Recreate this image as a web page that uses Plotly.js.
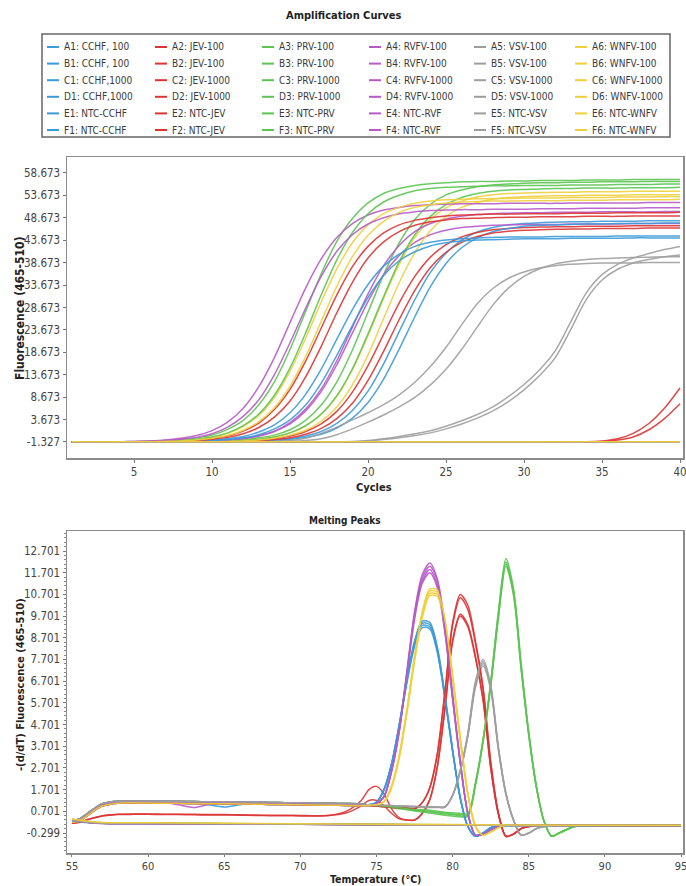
<!DOCTYPE html>
<html><head><meta charset="utf-8">
<script src="https://cdn.plot.ly/plotly-3.0.1.min.js"></script>
<style>html,body{margin:0;padding:0;background:#fff;}#chart{width:686px;height:886px;}</style>
</head><body><div id="chart"></div>
<script>
// ---------- axes / categories ----------
const cycles = [1,2,3,4,5,6,7,8,9,10,11,12,13,14,15,16,17,18,19,20,21,22,23,24,25,26,27,28,29,30,31,32,33,34,35,36,37,38,39,40];
const ntcCycles = [1,5,10,15,20,25,30,35,40];
const temps = [55,55.5,56,56.5,57,57.5,58,59,60,61,62,63,64,65,66,67,68,69,70,71,72,73,74,74.5,75,75.5,76,76.5,77,77.5,78,78.5,79,79.5,80,80.5,81,81.5,82,82.5,83,83.5,84,84.5,85,85.5,86,86.5,87,88,89,90,91,92,93,94,95];
const ntcTemps = [55,56,57,60,65,70,75,80,85,90,95];
const ampTickText = ['-1.327','3.673','8.673','13.673','18.673','23.673','28.673','33.673','38.673','43.673','48.673','53.673','58.673'];
const meltTickText = ['-0.299','0.701','1.701','2.701','3.701','4.701','5.701','6.701','7.701','8.701','9.701','10.701','11.701','12.701'];
const cycleTicks = [5,10,15,20,25,30,35,40];
const tempTicks = [55,60,65,70,75,80,85,90,95];

const rowsWells = ['A','B','C','D','E','F'];
const legendNames = [
 ['A1: CCHF, 100','A2: JEV-100','A3: PRV-100','A4: RVFV-100','A5: VSV-100','A6: WNFV-100'],
 ['B1: CCHF, 100','B2: JEV-100','B3: PRV-100','B4: RVFV-100','B5: VSV-100','B6: WNFV-100'],
 ['C1: CCHF,1000','C2: JEV-1000','C3: PRV-1000','C4: RVFV-1000','C5: VSV-1000','C6: WNFV-1000'],
 ['D1: CCHF,1000','D2: JEV-1000','D3: PRV-1000','D4: RVFV-1000','D5: VSV-1000','D6: WNFV-1000'],
 ['E1: NTC-CCHF','E2: NTC-JEV','E3: NTC-PRV','E4: NTC-RVF','E5: NTC-VSV','E6: NTC-WNFV'],
 ['F1: NTC-CCHF','F2: NTC-JEV','F3: NTC-PRV','F4: NTC-RVF','F5: NTC-VSV','F6: NTC-WNFV']
];
const columnColors = ['#3b9ad8','#dc3434','#5cc452','#b65ac8','#9e9e9e','#efd03c'];

// ---------- amplification values (fluorescence per cycle) ----------
const amp_A1 = [-1.3,-1.3,-1.3,-1.3,-1.3,-1.3,-1.3,-1.3,-1.3,-1.3,-1.3,-1.2,-1.1,-0.9,-0.6,0.0,1.0,2.8,5.7,10.0,16.1,23.3,30.4,36.5,40.8,43.7,45.5,46.5,47.1,47.4,47.6,47.7,47.8,47.8,47.9,47.9,47.9,48.0,48.0,48.0];
const amp_B1 = [-1.3,-1.3,-1.3,-1.3,-1.3,-1.3,-1.3,-1.3,-1.3,-1.3,-1.3,-1.2,-1.1,-1.0,-0.8,-0.3,0.4,1.8,4.0,7.5,12.7,19.4,26.6,33.3,38.5,42.0,44.2,45.6,46.3,46.8,47.0,47.1,47.2,47.3,47.3,47.4,47.4,47.4,47.5,47.5];
const amp_C1 = [-1.3,-1.3,-1.3,-1.3,-1.3,-1.3,-1.3,-1.2,-1.1,-0.9,-0.6,-0.1,0.9,2.5,5.2,9.3,14.9,21.6,28.2,33.8,37.9,40.6,42.3,43.2,43.7,44.0,44.2,44.3,44.4,44.4,44.4,44.5,44.5,44.5,44.5,44.6,44.6,44.6,44.6,44.6];
const amp_D1 = [-1.3,-1.3,-1.3,-1.3,-1.3,-1.3,-1.3,-1.2,-1.2,-1.0,-0.8,-0.4,0.3,1.6,3.6,6.9,11.8,18.0,24.7,30.9,35.8,39.1,41.1,42.4,43.1,43.5,43.7,43.8,43.9,44.0,44.0,44.0,44.1,44.1,44.1,44.1,44.2,44.2,44.2,44.2];
const amp_E1 = [-1.3,-1.3,-1.35,-1.3,-1.3,-1.35,-1.3,-1.3,-1.3];
const amp_F1 = [-1.35,-1.3,-1.3,-1.3,-1.35,-1.3,-1.3,-1.35,-1.3];

const amp_A2 = [-1.3,-1.3,-1.3,-1.3,-1.3,-1.3,-1.3,-1.3,-1.3,-1.3,-1.2,-1.1,-0.9,-0.6,0.0,1.0,2.7,5.5,9.8,15.7,22.7,29.7,35.6,39.9,42.7,44.4,45.4,46.0,46.3,46.5,46.6,46.7,46.7,46.8,46.8,46.8,46.9,46.9,46.9,46.9];
const amp_B2 = [-1.3,-1.3,-1.3,-1.3,-1.3,-1.3,-1.3,-1.3,-1.3,-1.3,-1.2,-1.1,-1.0,-0.8,-0.4,0.4,1.7,3.9,7.3,12.4,18.9,26.0,32.5,37.6,41.0,43.2,44.5,45.3,45.7,45.9,46.0,46.1,46.2,46.2,46.3,46.3,46.3,46.4,46.4,46.4];
const amp_C2 = [-1.3,-1.3,-1.3,-1.3,-1.3,-1.3,-1.2,-1.1,-0.9,-0.5,0.0,1.1,2.9,5.9,10.4,16.7,24.1,31.5,37.8,42.3,45.3,47.1,48.1,48.7,49.1,49.3,49.4,49.5,49.5,49.6,49.6,49.6,49.7,49.7,49.7,49.8,49.8,49.8,49.8,49.9];
const amp_D2 = [-1.3,-1.3,-1.3,-1.3,-1.3,-1.3,-1.2,-1.1,-1.0,-0.7,-0.3,0.5,1.9,4.2,7.8,13.2,20.0,27.5,34.3,39.7,43.3,45.6,47.0,47.8,48.2,48.5,48.6,48.7,48.8,48.8,48.9,48.9,48.9,49.0,49.0,49.0,49.1,49.1,49.1,49.1];
const amp_E2 = [-1.3,-1.3,-1.3,-1.3,-1.3,-1.3,-1.3,-1.3,-1.3,-1.3,-1.3,-1.3,-1.3,-1.3,-1.3,-1.3,-1.3,-1.3,-1.3,-1.3,-1.3,-1.3,-1.3,-1.3,-1.3,-1.3,-1.3,-1.3,-1.3,-1.3,-1.3,-1.3,-1.3,-1.3,-1.1,-0.6,0.6,2.8,6.2,10.7];
const amp_F2 = [-1.3,-1.3,-1.3,-1.3,-1.3,-1.3,-1.3,-1.3,-1.3,-1.3,-1.3,-1.3,-1.3,-1.3,-1.3,-1.3,-1.3,-1.3,-1.3,-1.3,-1.3,-1.3,-1.3,-1.3,-1.3,-1.3,-1.3,-1.3,-1.3,-1.3,-1.3,-1.3,-1.3,-1.3,-1.3,-0.9,-0.2,1.4,3.9,7.2];

const amp_A3 = [-1.3,-1.3,-1.3,-1.3,-1.3,-1.3,-1.3,-1.3,-1.3,-1.2,-1.0,-0.8,-0.4,0.2,1.4,3.5,6.9,12.1,19.2,27.6,36.0,43.1,48.3,51.7,53.8,54.9,55.6,56.0,56.2,56.4,56.5,56.5,56.6,56.6,56.7,56.7,56.7,56.8,56.8,56.8];
const amp_B3 = [-1.3,-1.3,-1.3,-1.3,-1.3,-1.3,-1.3,-1.3,-1.3,-1.2,-1.1,-1.0,-0.7,-0.2,0.7,2.3,4.9,9.0,15.0,22.8,31.1,38.9,44.9,49.0,51.6,53.2,54.1,54.6,54.9,55.0,55.1,55.2,55.2,55.3,55.3,55.3,55.4,55.4,55.4,55.5];
const amp_C3 = [-1.3,-1.3,-1.3,-1.3,-1.3,-1.2,-1.0,-0.8,-0.4,0.2,1.5,3.5,7.0,12.1,19.3,27.8,36.2,43.4,48.5,52.0,54.1,55.2,55.9,56.3,56.5,56.7,56.8,56.8,56.9,56.9,57.0,57.0,57.0,57.1,57.1,57.1,57.2,57.2,57.2,57.2];
const amp_D3 = [-1.3,-1.3,-1.3,-1.3,-1.3,-1.2,-1.1,-1.0,-0.7,-0.2,0.7,2.3,4.9,9.1,15.2,23.0,31.5,39.3,45.4,49.6,52.2,53.7,54.7,55.2,55.5,55.6,55.7,55.8,55.8,55.9,55.9,55.9,56.0,56.0,56.0,56.1,56.1,56.1,56.2,56.2];
const amp_E3 = [-1.3,-1.3,-1.3,-1.35,-1.3,-1.3,-1.3,-1.3,-1.35];
const amp_F3 = [-1.3,-1.35,-1.3,-1.3,-1.3,-1.3,-1.35,-1.3,-1.3];

const amp_A4 = [-1.3,-1.3,-1.3,-1.3,-1.3,-1.3,-1.3,-1.3,-1.2,-1.1,-0.9,-0.6,0.0,1.0,2.7,5.6,9.9,15.9,23.0,30.0,36.0,40.3,43.2,44.9,45.9,46.5,46.8,47.0,47.1,47.2,47.2,47.2,47.3,47.3,47.3,47.3,47.4,47.4,47.4,47.4];
const amp_B4 = [-1.3,-1.3,-1.3,-1.3,-1.3,-1.3,-1.3,-1.3,-1.2,-1.1,-0.9,-0.5,0.1,1.1,3.0,6.0,10.5,16.8,24.3,31.7,38.0,42.5,45.6,47.4,48.4,49.0,49.4,49.6,49.7,49.8,49.8,49.9,49.9,49.9,50.0,50.0,50.0,50.0,50.1,50.1];
const amp_C4 = [-1.3,-1.3,-1.3,-1.3,-1.2,-1.1,-0.9,-0.5,0.1,1.2,3.1,6.2,11.0,17.5,25.3,33.0,39.5,44.3,47.4,49.3,50.4,51.0,51.4,51.6,51.7,51.8,51.8,51.8,51.9,51.9,51.9,51.9,52.0,52.0,52.0,52.0,52.0,52.1,52.1,52.1];
const amp_D4 = [-1.3,-1.3,-1.3,-1.3,-1.2,-1.1,-1.0,-0.7,-0.3,0.5,2.0,4.4,8.1,13.7,20.8,28.5,35.6,41.2,44.9,47.3,48.7,49.6,50.0,50.3,50.4,50.5,50.5,50.6,50.6,50.6,50.7,50.7,50.7,50.8,50.8,50.8,50.8,50.9,50.9,50.9];
const amp_E4 = [-1.3,-1.3,-1.3,-1.3,-1.35,-1.3,-1.3,-1.3,-1.3];
const amp_F4 = [-1.35,-1.3,-1.3,-1.3,-1.3,-1.3,-1.3,-1.35,-1.3];

const amp_A5 = [-1.3,-1.3,-1.3,-1.3,-1.3,-1.3,-1.3,-1.3,-1.3,-1.3,-1.3,-1.3,-1.3,-1.3,-1.3,-1.3,-1.3,-1.3,-1.2,-1.0,-0.6,-0.1,0.5,1.2,2.2,3.4,4.8,6.5,8.8,11.5,14.8,19.0,25.5,32.0,36.0,38.3,39.7,40.7,41.6,42.3];
const amp_B5 = [-1.3,-1.3,-1.3,-1.3,-1.3,-1.3,-1.3,-1.3,-1.3,-1.3,-1.3,-1.3,-1.3,-1.3,-1.3,-1.3,-1.3,-1.3,-1.3,-1.1,-0.8,-0.4,0.1,0.7,1.6,2.7,4.0,5.6,7.7,10.3,13.5,17.5,23.8,30.5,34.8,37.2,38.6,39.4,40.0,40.4];
const amp_C5 = [-1.3,-1.3,-1.3,-1.3,-1.3,-1.3,-1.3,-1.3,-1.3,-1.3,-1.3,-1.3,-1.3,-1.2,-1.0,-0.5,0.6,2.0,3.6,5.2,7.0,9.2,12.0,15.5,19.8,24.8,29.5,32.9,35.2,36.6,37.5,38.0,38.3,38.5,38.6,38.6,38.6,38.7,38.7,38.7];
const amp_D5 = [-1.3,-1.3,-1.3,-1.3,-1.3,-1.3,-1.3,-1.3,-1.3,-1.3,-1.3,-1.3,-1.3,-1.3,-1.2,-1.0,-0.6,0.3,1.6,3.1,4.7,6.5,8.6,11.4,14.9,19.3,24.3,29.2,33.0,35.6,37.3,38.4,39.0,39.4,39.6,39.7,39.8,39.9,40.0,40.0];
const amp_E5 = [-1.3,-1.3,-1.3,-1.3,-1.3,-1.35,-1.3,-1.3,-1.3];
const amp_F5 = [-1.3,-1.3,-1.35,-1.3,-1.3,-1.3,-1.3,-1.3,-1.35];

const amp_A6 = [-1.3,-1.3,-1.3,-1.3,-1.3,-1.3,-1.3,-1.3,-1.3,-1.2,-1.1,-1.0,-0.7,-0.2,0.7,2.2,4.8,8.8,14.8,22.4,30.7,38.3,44.3,48.3,50.9,52.4,53.3,53.8,54.1,54.2,54.3,54.4,54.4,54.5,54.5,54.5,54.6,54.6,54.6,54.6];
const amp_B6 = [-1.3,-1.3,-1.3,-1.3,-1.3,-1.3,-1.3,-1.3,-1.3,-1.3,-1.2,-1.1,-0.9,-0.5,0.2,1.3,3.3,6.5,11.4,18.1,26.2,34.2,40.9,45.8,49.0,51.0,52.1,52.8,53.2,53.4,53.5,53.6,53.6,53.7,53.7,53.7,53.8,53.8,53.8,53.8];
const amp_C6 = [-1.3,-1.3,-1.3,-1.3,-1.3,-1.2,-1.1,-1.0,-0.7,-0.2,0.6,2.1,4.6,8.6,14.4,21.8,29.9,37.3,43.1,47.1,49.6,51.0,51.9,52.4,52.7,52.8,52.9,53.0,53.0,53.1,53.1,53.1,53.2,53.2,53.2,53.3,53.3,53.3,53.4,53.4];
const amp_D6 = [-1.3,-1.3,-1.3,-1.3,-1.3,-1.3,-1.2,-1.1,-0.9,-0.5,0.1,1.3,3.2,6.3,11.1,17.7,25.6,33.4,40.0,44.8,47.9,49.9,51.0,51.6,52.0,52.2,52.3,52.4,52.4,52.5,52.5,52.5,52.6,52.6,52.6,52.7,52.7,52.7,52.7,52.8];
const amp_E6 = [-1.3,-1.3,-1.3,-1.3,-1.3,-1.3,-1.3,-1.3,-1.3];
const amp_F6 = [-1.3,-1.3,-1.3,-1.3,-1.3,-1.3,-1.3,-1.3,-1.3];

// ---------- melting peak values (-dF/dT per temperature) ----------
const melt_A1 = [0.2,0.25,0.5,0.75,0.95,1.03,1.07,1.09,1.08,1.07,1.07,1.06,1.05,1.05,1.04,1.03,1.02,1.01,1.0,0.99,0.98,0.97,0.96,1.0,1.12,1.71,2.9,4.67,6.7,8.39,9.27,9.21,8.08,5.92,3.48,1.32,0.0,-0.45,-0.3,-0.05,0.05,0.05,0.05,0.05,0.05,0.05,0.05,0.05,0.05,0.05,0.05,0.05,0.05,0.05,0.05,0.05,0.05];
const melt_B1 = [0.25,0.3,0.55,0.8,1.0,1.08,1.12,1.14,1.13,1.12,1.12,1.11,1.0,0.9,1.0,1.08,1.07,1.06,1.05,1.04,1.03,1.02,1.0,1.0,1.12,1.7,2.87,4.62,6.63,8.3,9.17,9.11,8.0,5.86,3.44,1.3,0.0,-0.45,-0.3,-0.05,0.05,0.05,0.05,0.05,0.05,0.05,0.05,0.05,0.05,0.05,0.05,0.05,0.05,0.05,0.05,0.05,0.05];
const melt_C1 = [0.3,0.35,0.6,0.85,1.05,1.13,1.17,1.18,1.17,1.16,1.16,1.15,1.14,1.14,1.13,1.12,1.11,1.1,1.09,1.08,1.07,1.06,1.04,1.0,1.12,1.73,2.94,4.75,6.83,8.56,9.47,9.41,8.26,6.05,3.55,1.34,0.0,-0.45,-0.3,-0.05,0.05,0.05,0.05,0.05,0.05,0.05,0.05,0.05,0.05,0.05,0.05,0.05,0.05,0.05,0.05,0.05,0.05];
const melt_D1 = [0.25,0.3,0.55,0.8,1.0,1.08,1.12,1.14,1.13,1.12,1.12,1.11,1.1,1.1,1.09,1.08,1.07,1.06,1.05,1.04,1.03,1.02,1.0,1.0,1.12,1.72,2.92,4.7,6.76,8.47,9.37,9.31,8.17,5.99,3.5,1.33,0.0,-0.45,-0.3,-0.05,0.05,0.05,0.05,0.05,0.05,0.05,0.05,0.05,0.05,0.05,0.05,0.05,0.05,0.05,0.05,0.05,0.05];
const melt_E1 = [0.3,0.2,0.15,0.14,0.12,0.1,0.08,0.07,0.06,0.05,0.05];
const melt_F1 = [0.28,0.18,0.14,0.13,0.11,0.1,0.08,0.06,0.05,0.05,0.05];

const melt_A2 = [0.15,0.2,0.3,0.4,0.48,0.52,0.55,0.56,0.56,0.55,0.55,0.54,0.53,0.53,0.52,0.51,0.5,0.5,0.49,0.48,0.52,0.7,1.2,1.7,1.85,1.5,0.8,0.4,0.3,0.3,0.6,1.25,2.8,5.5,8.6,9.8,9.3,7.85,5.9,2.75,0.6,-0.45,-0.35,-0.1,0.0,0.05,0.05,0.05,0.05,0.05,0.05,0.05,0.05,0.05,0.05,0.05,0.05];
const melt_B2 = [0.15,0.2,0.32,0.42,0.5,0.54,0.57,0.58,0.58,0.57,0.57,0.56,0.55,0.55,0.54,0.53,0.52,0.52,0.51,0.5,0.52,0.62,0.95,1.2,1.2,0.95,0.6,0.35,0.3,0.3,0.6,1.24,2.77,5.43,8.5,9.7,9.2,7.76,5.8,2.7,0.58,-0.45,-0.35,-0.1,0.0,0.05,0.05,0.05,0.05,0.05,0.05,0.05,0.05,0.05,0.05,0.05,0.05];
const melt_C2 = [0.25,0.3,0.55,0.8,1.0,1.08,1.12,1.14,1.13,1.12,1.12,1.11,1.1,1.1,1.09,1.08,1.07,1.06,1.05,1.04,1.03,1.02,1.0,0.98,0.95,0.92,0.9,0.87,0.85,0.82,1.1,1.8,3.4,6.25,9.4,10.7,10.2,8.55,6.4,3.0,0.65,-0.45,-0.35,-0.1,0.0,0.05,0.05,0.05,0.05,0.05,0.05,0.05,0.05,0.05,0.05,0.05,0.05];
const melt_D2 = [0.2,0.25,0.5,0.75,0.95,1.03,1.07,1.09,1.08,1.07,1.07,1.06,1.05,1.05,1.04,1.03,1.02,1.01,1.0,0.99,0.98,0.97,0.96,0.97,0.94,0.91,0.88,0.86,0.84,0.81,1.1,1.78,3.34,6.16,9.28,10.55,10.0,8.44,6.33,2.95,0.63,-0.45,-0.35,-0.1,0.0,0.05,0.05,0.05,0.05,0.05,0.05,0.05,0.05,0.05,0.05,0.05,0.05];
const melt_E2 = [0.32,0.22,0.16,0.15,0.13,0.11,0.09,0.07,0.06,0.06,0.05];
const melt_F2 = [0.3,0.2,0.15,0.14,0.12,0.1,0.08,0.07,0.06,0.05,0.05];

const melt_A3 = [0.2,0.25,0.5,0.75,0.95,1.03,1.07,1.09,1.08,1.07,1.07,1.06,1.05,1.05,1.04,1.03,1.02,1.01,1.0,0.99,0.98,0.97,0.96,0.98,0.96,0.93,0.89,0.85,0.8,0.75,0.71,0.67,0.62,0.58,0.54,0.5,0.5,1.95,3.95,6.5,9.65,12.1,10.75,7.3,4.25,1.8,0.25,-0.45,-0.3,0.0,0.05,0.05,0.05,0.05,0.05,0.05,0.05];
const melt_B3 = [0.3,0.35,0.6,0.85,1.05,1.13,1.17,1.18,1.17,1.16,1.16,1.15,1.14,1.14,1.13,1.12,1.11,1.1,1.09,1.08,1.07,1.06,1.04,0.97,0.95,0.91,0.87,0.82,0.77,0.72,0.67,0.62,0.57,0.52,0.48,0.45,0.45,1.9,3.9,6.45,9.55,12.0,10.65,7.25,4.2,1.8,0.25,-0.45,-0.3,0.0,0.05,0.05,0.05,0.05,0.05,0.05,0.05];
const melt_C3 = [0.3,0.35,0.6,0.85,1.05,1.13,1.17,1.18,1.17,1.16,1.16,1.15,1.14,1.14,1.13,1.12,1.11,1.1,1.09,1.08,1.07,1.06,1.04,1.0,0.98,0.95,0.92,0.88,0.85,0.8,0.78,0.75,0.7,0.66,0.63,0.6,0.6,2.0,4.0,6.65,9.85,12.35,10.95,7.5,4.36,1.87,0.25,-0.45,-0.3,0.0,0.05,0.05,0.05,0.05,0.05,0.05,0.05];
const melt_D3 = [0.25,0.3,0.55,0.8,1.0,1.08,1.12,1.14,1.13,1.12,1.12,1.11,1.1,1.1,1.09,1.08,1.07,1.06,1.05,1.04,1.03,1.02,1.0,0.99,0.97,0.94,0.9,0.86,0.82,0.77,0.74,0.7,0.66,0.62,0.58,0.55,0.55,2.0,4.0,6.6,9.8,12.2,10.85,7.4,4.3,1.85,0.25,-0.45,-0.3,0.0,0.05,0.05,0.05,0.05,0.05,0.05,0.05];
const melt_E3 = [0.34,0.22,0.17,0.16,0.14,0.12,0.1,0.08,0.07,0.06,0.06];
const melt_F3 = [0.3,0.21,0.16,0.15,0.13,0.11,0.09,0.08,0.06,0.05,0.05];

const melt_A4 = [0.25,0.3,0.55,0.8,1.0,1.08,1.12,1.14,1.13,1.12,1.0,0.88,1.02,1.1,1.09,1.08,1.07,1.06,1.05,1.04,1.03,1.02,1.0,0.98,1.06,1.39,2.6,4.4,7.05,9.7,11.3,11.85,11.1,9.0,5.9,3.0,0.6,-0.4,-0.35,-0.15,0.0,0.05,0.05,0.05,0.05,0.05,0.05,0.05,0.05,0.05,0.05,0.05,0.05,0.05,0.05,0.05,0.05];
const melt_B4 = [0.2,0.25,0.5,0.75,0.95,1.03,1.07,1.09,1.08,1.07,1.07,1.06,1.05,1.05,1.04,1.03,1.02,1.01,1.0,0.99,0.98,0.97,0.96,0.97,1.05,1.38,2.56,4.4,7.0,9.55,11.2,11.7,11.0,8.9,5.85,2.9,0.6,-0.4,-0.35,-0.15,0.0,0.05,0.05,0.05,0.05,0.05,0.05,0.05,0.05,0.05,0.05,0.05,0.05,0.05,0.05,0.05,0.05];
const melt_C4 = [0.3,0.35,0.6,0.85,1.05,1.13,1.17,1.18,1.17,1.16,1.16,1.15,1.14,1.14,1.13,1.12,1.11,1.1,1.09,1.08,1.07,1.06,1.04,0.98,1.05,1.4,2.6,4.5,7.2,9.9,11.6,12.15,11.4,9.2,6.1,3.0,0.6,-0.4,-0.35,-0.15,0.0,0.05,0.05,0.05,0.05,0.05,0.05,0.05,0.05,0.05,0.05,0.05,0.05,0.05,0.05,0.05,0.05];
const melt_D4 = [0.25,0.3,0.55,0.8,1.0,1.08,1.12,1.14,1.13,1.12,1.12,1.11,1.1,1.1,1.09,1.08,1.07,1.06,1.05,1.04,1.03,1.02,1.0,0.98,1.06,1.39,2.6,4.5,7.1,9.8,11.45,12.0,11.3,9.1,6.0,3.0,0.6,-0.4,-0.35,-0.15,0.0,0.05,0.05,0.05,0.05,0.05,0.05,0.05,0.05,0.05,0.05,0.05,0.05,0.05,0.05,0.05,0.05];
const melt_E4 = [0.28,0.2,0.15,0.14,0.12,0.1,0.08,0.07,0.06,0.05,0.05];
const melt_F4 = [0.3,0.19,0.14,0.13,0.11,0.1,0.09,0.07,0.06,0.05,0.05];

const melt_A5 = [0.2,0.25,0.5,0.75,0.95,1.03,1.07,1.09,1.08,1.07,1.07,1.06,1.05,1.05,1.04,1.03,1.02,1.01,1.0,0.99,0.98,0.97,0.96,0.98,0.97,0.96,0.95,0.93,0.92,0.91,0.9,0.89,0.89,0.9,1.43,2.55,4.2,6.5,7.5,6.4,3.6,1.5,0.3,-0.4,-0.3,-0.1,0.0,0.05,0.05,0.05,0.05,0.05,0.05,0.05,0.05,0.05,0.05];
const melt_B5 = [0.25,0.3,0.55,0.8,1.0,1.08,1.12,1.14,1.13,1.12,1.12,1.11,1.1,1.1,1.09,1.08,1.07,1.06,1.05,1.04,1.03,1.02,1.0,0.97,0.96,0.95,0.94,0.92,0.91,0.9,0.89,0.88,0.88,0.9,1.42,2.53,4.15,6.4,7.4,6.3,3.55,1.48,0.3,-0.4,-0.3,-0.1,0.0,0.05,0.05,0.05,0.05,0.05,0.05,0.05,0.05,0.05,0.05];
const melt_C5 = [0.25,0.3,0.55,0.8,1.0,1.08,1.12,1.14,1.13,1.12,1.12,1.11,1.1,1.1,1.09,1.08,1.07,1.06,1.05,1.04,1.03,1.02,1.0,1.0,1.0,0.98,0.97,0.95,0.94,0.93,0.92,0.91,0.9,0.9,1.45,2.6,4.3,6.7,7.7,6.55,3.7,1.55,0.3,-0.4,-0.3,-0.1,0.0,0.05,0.05,0.05,0.05,0.05,0.05,0.05,0.05,0.05,0.05];
const melt_D5 = [0.3,0.35,0.6,0.85,1.05,1.13,1.17,1.18,1.17,1.16,1.16,1.15,1.14,1.14,1.13,1.12,1.11,1.1,1.09,1.08,1.07,1.06,1.04,1.0,0.99,0.97,0.96,0.94,0.93,0.92,0.91,0.9,0.9,0.9,1.44,2.58,4.25,6.6,7.6,6.45,3.65,1.52,0.3,-0.4,-0.3,-0.1,0.0,0.05,0.05,0.05,0.05,0.05,0.05,0.05,0.05,0.05,0.05];
const melt_E5 = [0.31,0.21,0.16,0.15,0.13,0.11,0.09,0.08,0.06,0.05,0.05];
const melt_F5 = [0.29,0.2,0.15,0.14,0.12,0.1,0.08,0.07,0.05,0.05,0.05];

const melt_A6 = [0.3,0.35,0.6,0.85,1.05,1.13,1.17,1.18,1.17,1.16,1.16,1.15,1.14,1.14,1.13,1.12,1.11,1.1,1.09,1.08,1.07,1.06,1.04,0.98,1.0,1.15,1.85,3.2,5.3,7.7,9.7,10.75,10.7,9.4,6.9,4.0,1.5,0.0,-0.4,-0.25,-0.05,0.05,0.05,0.05,0.05,0.05,0.05,0.05,0.05,0.05,0.05,0.05,0.05,0.05,0.05,0.05,0.05];
const melt_B6 = [0.25,0.3,0.55,0.8,1.0,1.08,1.12,1.14,1.13,1.12,1.12,1.11,1.1,1.1,1.09,1.08,1.07,1.06,1.05,1.04,1.03,1.02,1.0,0.97,1.0,1.15,1.8,3.2,5.25,7.6,9.6,10.65,10.6,9.3,6.8,4.0,1.5,0.0,-0.4,-0.25,-0.05,0.05,0.05,0.05,0.05,0.05,0.05,0.05,0.05,0.05,0.05,0.05,0.05,0.05,0.05,0.05,0.05];
const melt_C6 = [0.25,0.3,0.55,0.8,1.0,1.08,1.12,1.14,1.13,1.12,1.12,1.11,1.1,1.1,1.09,1.08,1.07,1.06,1.05,1.04,1.03,1.02,1.0,0.98,1.0,1.15,1.9,3.3,5.4,7.85,9.9,10.95,10.9,9.5,7.0,4.1,1.55,0.0,-0.4,-0.25,-0.05,0.05,0.05,0.05,0.05,0.05,0.05,0.05,0.05,0.05,0.05,0.05,0.05,0.05,0.05,0.05,0.05];
const melt_D6 = [0.2,0.25,0.5,0.75,0.95,1.03,1.07,1.09,1.08,1.07,1.07,1.06,1.05,1.05,1.04,1.03,1.02,1.01,1.0,0.99,0.98,0.97,0.96,0.98,1.0,1.15,1.85,3.3,5.4,7.8,9.8,10.85,10.8,9.5,6.9,4.1,1.5,0.0,-0.4,-0.25,-0.05,0.05,0.05,0.05,0.05,0.05,0.05,0.05,0.05,0.05,0.05,0.05,0.05,0.05,0.05,0.05,0.05];
const melt_E6 = [0.33,0.23,0.17,0.16,0.14,0.12,0.1,0.08,0.07,0.06,0.05];
const melt_F6 = [0.35,0.24,0.18,0.17,0.15,0.13,0.1,0.09,0.07,0.06,0.06];

// ---------- build ----------
const ampSeries = {A1:amp_A1,B1:amp_B1,C1:amp_C1,D1:amp_D1,E1:amp_E1,F1:amp_F1,A2:amp_A2,B2:amp_B2,C2:amp_C2,D2:amp_D2,E2:amp_E2,F2:amp_F2,A3:amp_A3,B3:amp_B3,C3:amp_C3,D3:amp_D3,E3:amp_E3,F3:amp_F3,A4:amp_A4,B4:amp_B4,C4:amp_C4,D4:amp_D4,E4:amp_E4,F4:amp_F4,A5:amp_A5,B5:amp_B5,C5:amp_C5,D5:amp_D5,E5:amp_E5,F5:amp_F5,A6:amp_A6,B6:amp_B6,C6:amp_C6,D6:amp_D6,E6:amp_E6,F6:amp_F6};
const meltSeries = {A1:melt_A1,B1:melt_B1,C1:melt_C1,D1:melt_D1,E1:melt_E1,F1:melt_F1,A2:melt_A2,B2:melt_B2,C2:melt_C2,D2:melt_D2,E2:melt_E2,F2:melt_F2,A3:melt_A3,B3:melt_B3,C3:melt_C3,D3:melt_D3,E3:melt_E3,F3:melt_F3,A4:melt_A4,B4:melt_B4,C4:melt_C4,D4:melt_D4,E4:melt_E4,F4:melt_F4,A5:melt_A5,B5:melt_B5,C5:melt_C5,D5:melt_D5,E5:melt_E5,F5:melt_F5,A6:melt_A6,B6:melt_B6,C6:melt_C6,D6:melt_D6,E6:melt_E6,F6:melt_F6};

const FONT = 'Liberation Sans Narrow, Arial Narrow, DejaVu Sans Condensed, sans-serif';
const W = 686, H = 886;
const px = v => v / W, py = v => 1 - v / H;

const traces = [];
rowsWells.forEach((r, ri) => {
  for (let c = 0; c < 6; c++) {
    const key = r + (c + 1);
    const ay = ampSeries[key];
    traces.push({type:'scatter', mode:'lines', name:legendNames[ri][c], showlegend:false,
      x: ay.length === cycles.length ? cycles : ntcCycles, y: ay, xaxis:'x', yaxis:'y',
      line:{color:columnColors[c], width:1.5, shape:'spline', smoothing:0.8}, opacity:0.9, hoverinfo:'skip'});
  }
});
rowsWells.forEach((r, ri) => {
  for (let c = 0; c < 6; c++) {
    const key = r + (c + 1);
    const my = meltSeries[key];
    traces.push({type:'scatter', mode:'lines', name:legendNames[ri][c], showlegend:false,
      x: my.length === temps.length ? temps : ntcTemps, y: my, xaxis:'x2', yaxis:'y2',
      line:{color:columnColors[c], width:1.5, shape:'spline', smoothing:0.8}, opacity:0.9, hoverinfo:'skip'});
  }
});

// legend drawn as shapes + text
const legendRowY = [47, 63.6, 80.2, 96.8, 113.4, 130];
const legendColX = [62, 170, 277, 384, 489, 590];
const shapes = [{type:'rect', xref:'paper', yref:'paper', x0:px(42), x1:px(670), y0:py(137), y1:py(34), line:{color:'#666', width:1.5}, fillcolor:'rgba(0,0,0,0)'}];
const annotations = [];
legendNames.forEach((row, ri) => row.forEach((nm, ci) => {
  shapes.push({type:'line', xref:'paper', yref:'paper', x0:px(legendColX[ci]-15), x1:px(legendColX[ci]-3), y0:py(legendRowY[ri]), y1:py(legendRowY[ri]), line:{color:columnColors[ci], width:2}});
  annotations.push({xref:'paper', yref:'paper', x:px(legendColX[ci]), y:py(legendRowY[ri]), xanchor:'left', yanchor:'middle', showarrow:false, text:nm, font:{family:FONT, size:10, color:'#3a3a3a'}});
}));
const titleFont = {family:FONT, size:11, color:'#222'};
annotations.push({xref:'paper', yref:'paper', x:px(343), y:py(16), xanchor:'center', yanchor:'middle', showarrow:false, text:'<b>Amplification Curves</b>', font:titleFont});
annotations.push({xref:'paper', yref:'paper', x:px(345), y:py(520), xanchor:'center', yanchor:'middle', showarrow:false, text:'<b>Melting Peaks</b>', font:{family:FONT, size:10, color:'#222'}});
annotations.push({xref:'paper', yref:'paper', x:px(374), y:py(487), xanchor:'center', yanchor:'middle', showarrow:false, text:'<b>Cycles</b>', font:titleFont});
annotations.push({xref:'paper', yref:'paper', x:px(375), y:py(879), xanchor:'center', yanchor:'middle', showarrow:false, text:'<b>Temperature (°C)</b>', font:{family:FONT, size:10.5, color:'#222'}});
annotations.push({xref:'paper', yref:'paper', x:px(20), y:py(308), xanchor:'center', yanchor:'middle', textangle:-90, showarrow:false, text:'<b>Fluorescence (465-510)</b>', font:{family:FONT, size:12, color:'#222'}});
annotations.push({xref:'paper', yref:'paper', x:px(20), y:py(685), xanchor:'center', yanchor:'middle', textangle:-90, showarrow:false, text:'<b>-(d/dT) Fluorescence (465-510)</b>', font:{family:FONT, size:11, color:'#222'}});

const axisCommon = {showline:true, mirror:true, linecolor:'#8c8c8c', linewidth:1.5, ticks:'outside', ticklen:3, tickcolor:'#777', tickwidth:1, showgrid:false, zeroline:false, tickfont:{family:FONT, size:11.5, color:'#444'}, fixedrange:true, ticklabeloverflow:'allow'};

const layout = {
  width:W, height:H, margin:{l:0, r:0, t:0, b:0}, paper_bgcolor:'#fff', plot_bgcolor:'#fff', showlegend:false, hovermode:false,
  xaxis: Object.assign({}, axisCommon, {domain:[px(67), px(683)], range:[0.705, 40.19], tickmode:'array', tickvals:cycleTicks, anchor:'y'}),
  yaxis: Object.assign({}, axisCommon, {domain:[py(458), py(157)], range:[-4.9, 62.24], tickmode:'array', tickvals:ampTickText.map(Number), ticktext:ampTickText, anchor:'x'}),
  xaxis2: Object.assign({}, axisCommon, {domain:[px(67), px(683)], range:[54.672, 95.131], tickmode:'array', tickvals:tempTicks, anchor:'y2', ticklen:2, tickfont:{family:FONT, size:11, color:'#444'}}),
  yaxis2: Object.assign({}, axisCommon, {domain:[py(853), py(531)], range:[-1.221, 13.623], tickmode:'array', tickvals:meltTickText.map(Number), ticktext:meltTickText, anchor:'x2',
     minor:{ticks:'outside', ticklen:2, tickcolor:'#888', dtick:0.2, tick0:-0.299}}),
  shapes: shapes, annotations: annotations
};
Plotly.newPlot('chart', traces, layout, {staticPlot:true, displayModeBar:false});
</script></body></html>
